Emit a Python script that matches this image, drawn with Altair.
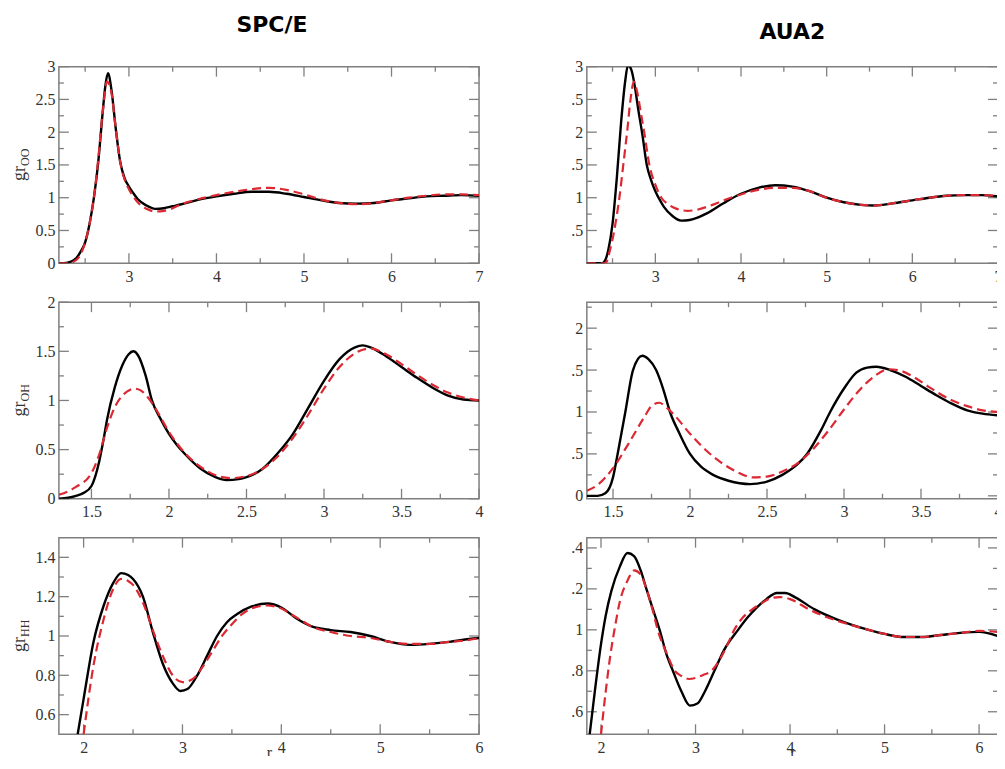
import json
import pandas as pd
import altair as alt

SERIF = "Liberation Serif"
FRAME = "#7f7f7f"
LABEL = "#333333"
RED = "#dc2832"

COLUMN_TITLES = ["SPC/E", "AUA2"]
YTITLE_MAIN = "gr"
YTITLE_SUBS = ["OO", "OH", "HH"]
XTITLE = "r"

# ---------------- g_OO ----------------
OO_XDOM = [2.2, 7.0]
OO_XMAJ = [3, 4, 5, 6, 7]
OO_XLAB = ["3", "4", "5", "6", "7"]
OO_XMIN = [2.5, 3.5, 4.5, 5.5, 6.5]
OO_YDOM = [0, 3]
OO_YMAJ = [0, 0.5, 1, 1.5, 2, 2.5, 3]
OO_YLAB_L = ["0", "0.5", "1", "1.5", "2", "2.5", "3"]
OO_YLAB_R = ["", ".5", "1", ".5", "2", ".5", "3"]
OO_YMIN = [0.25, 0.75, 1.25, 1.75, 2.25, 2.75]

SPCE_OO_R_BLACK = [2.2, 2.3, 2.4, 2.45, 2.5, 2.55, 2.6, 2.65, 2.7, 2.73, 2.76, 2.8, 2.85, 2.9, 2.95,
                   3.0, 3.05, 3.1, 3.2, 3.3, 3.4, 3.5, 3.6, 3.8, 4.0, 4.2, 4.4, 4.6, 4.8, 5.0,
                   5.2, 5.4, 5.6, 5.8, 6.0, 6.2, 6.4, 6.6, 6.8, 7.0]
SPCE_OO_G_BLACK = [0.0, 0.01, 0.08, 0.18, 0.32, 0.6, 1.0, 1.55, 2.3, 2.7, 2.9, 2.65, 2.05, 1.55, 1.3,
                   1.17, 1.07, 0.98, 0.88, 0.83, 0.84, 0.87, 0.9, 0.97, 1.02, 1.06, 1.09, 1.09, 1.06, 1.01,
                   0.96, 0.92, 0.91, 0.92, 0.96, 0.99, 1.02, 1.03, 1.04, 1.03]
SPCE_OO_R_RED = [2.2, 2.3, 2.4, 2.45, 2.5, 2.55, 2.6, 2.65, 2.7, 2.75, 2.8, 2.85, 2.9, 2.95, 3.0,
                 3.05, 3.1, 3.2, 3.3, 3.4, 3.5, 3.6, 3.8, 4.0, 4.2, 4.4, 4.6, 4.8, 5.0, 5.2,
                 5.4, 5.6, 5.8, 6.0, 6.2, 6.4, 6.6, 6.8, 7.0]
SPCE_OO_G_RED = [0.0, 0.0, 0.05, 0.14, 0.32, 0.6, 1.0, 1.6, 2.3, 2.77, 2.6, 2.05, 1.55, 1.28, 1.13,
                 1.02, 0.93, 0.83, 0.79, 0.8, 0.84, 0.9, 0.98, 1.04, 1.09, 1.13, 1.15, 1.12, 1.05, 0.97,
                 0.92, 0.9, 0.92, 0.96, 1.0, 1.03, 1.05, 1.05, 1.04]

AUA2_OO_R_BLACK = [2.2, 2.38, 2.42, 2.45, 2.5, 2.55, 2.6, 2.65, 2.68, 2.72, 2.76, 2.8, 2.85, 2.9, 2.95,
                   3.0, 3.05, 3.1, 3.2, 3.3, 3.4, 3.5, 3.6, 3.8, 4.0, 4.2, 4.4, 4.6, 4.8, 5.0,
                   5.2, 5.4, 5.55, 5.8, 6.0, 6.2, 6.4, 6.6, 6.8, 7.0]
AUA2_OO_G_BLACK = [0.0, 0.0, 0.06, 0.2, 0.6, 1.3, 2.15, 2.8, 3.02, 2.95, 2.7, 2.35, 1.95, 1.5, 1.27,
                   1.1, 0.97, 0.86, 0.72, 0.65, 0.66, 0.7, 0.76, 0.92, 1.06, 1.15, 1.19, 1.17, 1.1, 1.0,
                   0.93, 0.89, 0.88, 0.92, 0.96, 1.0, 1.03, 1.04, 1.04, 1.02]
AUA2_OO_R_RED = [2.2, 2.42, 2.47, 2.52, 2.58, 2.63, 2.67, 2.71, 2.75, 2.79, 2.83, 2.87, 2.93, 3.0, 3.07,
                 3.15, 3.25, 3.38, 3.5, 3.6, 3.8, 4.0, 4.2, 4.4, 4.6, 4.8, 5.0, 5.2, 5.4, 5.55,
                 5.8, 6.0, 6.2, 6.4, 6.6, 6.8, 7.0]
AUA2_OO_G_RED = [0.0, 0.0, 0.2, 0.5, 1.0, 1.55, 2.0, 2.5, 2.77, 2.6, 2.3, 2.0, 1.5, 1.2, 1.0,
                 0.9, 0.83, 0.8, 0.82, 0.86, 0.96, 1.05, 1.12, 1.15, 1.15, 1.1, 1.0, 0.93, 0.89, 0.88,
                 0.92, 0.96, 1.0, 1.03, 1.04, 1.04, 1.03]

# ---------------- g_OH ----------------
OH_XDOM_L = [1.29, 4.0]
OH_XDOM_R = [1.33, 4.0]
OH_XMAJ = [1.5, 2, 2.5, 3, 3.5, 4]
OH_XLAB = ["1.5", "2", "2.5", "3", "3.5", "4"]
OH_XMIN = [1.75, 2.25, 2.75, 3.25, 3.75]
OH_YDOM_L = [0, 2]
OH_YDOM_R = [-0.035, 2.31]
OH_YMAJ = [0, 0.5, 1, 1.5, 2]
OH_YLAB_L = ["0", "0.5", "1", "1.5", "2"]
OH_YLAB_R = ["0", ".5", "1", ".5", "2"]
OH_YMIN_L = [0.25, 0.75, 1.25, 1.75]
OH_YMIN_R = [0.25, 0.75, 1.25, 1.75, 2.25]

SPCE_OH_R_BLACK = [1.29, 1.35, 1.4, 1.45, 1.5, 1.55, 1.58, 1.6, 1.65, 1.7, 1.74, 1.77, 1.8, 1.85, 1.89,
                   1.95, 2.0, 2.05, 2.1, 2.2, 2.3, 2.37, 2.45, 2.5, 2.6, 2.7, 2.8, 2.9, 3.0, 3.1,
                   3.2, 3.25, 3.3, 3.4, 3.5, 3.6, 3.7, 3.8, 3.9, 4.0]
SPCE_OH_G_BLACK = [0.0, 0.01, 0.03, 0.06, 0.13, 0.38, 0.62, 0.8, 1.13, 1.36, 1.47, 1.5, 1.46, 1.25, 1.0,
                   0.8, 0.66, 0.55, 0.46, 0.31, 0.22, 0.19, 0.2, 0.22, 0.3, 0.46, 0.66, 0.93, 1.2, 1.42,
                   1.54, 1.56, 1.54, 1.45, 1.34, 1.23, 1.13, 1.05, 1.01, 1.0]
SPCE_OH_R_RED = [1.29, 1.4, 1.5, 1.55, 1.6, 1.65, 1.7, 1.75, 1.78, 1.82, 1.87, 1.92, 2.0, 2.1, 2.2,
                 2.3, 2.4, 2.5, 2.6, 2.7, 2.8, 2.9, 3.0, 3.1, 3.2, 3.3, 3.4, 3.5, 3.6, 3.7,
                 3.8, 3.9, 4.0]
SPCE_OH_G_RED = [0.04, 0.12, 0.26, 0.45, 0.72, 0.93, 1.05, 1.11, 1.12, 1.1, 1.02, 0.9, 0.68, 0.47, 0.33,
                 0.24, 0.21, 0.23, 0.3, 0.43, 0.62, 0.86, 1.12, 1.34, 1.48, 1.53, 1.47, 1.37, 1.26, 1.16,
                 1.08, 1.03, 1.0]

AUA2_OH_R_BLACK = [1.33, 1.4, 1.45, 1.5, 1.53, 1.58, 1.63, 1.69, 1.73, 1.78, 1.83, 1.87, 1.93, 2.0, 2.07,
                   2.15, 2.25, 2.39, 2.5, 2.6, 2.7, 2.76, 2.85, 2.91, 3.0, 3.08, 3.15, 3.21, 3.3, 3.4,
                   3.5, 3.6, 3.7, 3.8, 3.9, 4.0]
AUA2_OH_G_BLACK = [0.0, 0.0, 0.03, 0.22, 0.5, 1.0, 1.5, 1.67, 1.63, 1.5, 1.25, 1.0, 0.75, 0.5, 0.35,
                   0.25, 0.18, 0.14, 0.17, 0.25, 0.38, 0.5, 0.78, 1.0, 1.28, 1.47, 1.53, 1.54, 1.5, 1.42,
                   1.31, 1.2, 1.1, 1.02, 0.98, 0.96]
AUA2_OH_R_RED = [1.33, 1.4, 1.5, 1.6, 1.7, 1.75, 1.8, 1.85, 1.9, 2.0, 2.1, 2.2, 2.3, 2.41, 2.5,
                 2.6, 2.7, 2.8, 2.9, 3.0, 3.1, 3.2, 3.29, 3.35, 3.45, 3.55, 3.7, 3.8, 3.9, 4.0]
AUA2_OH_G_RED = [0.06, 0.13, 0.33, 0.62, 0.93, 1.07, 1.11, 1.05, 0.96, 0.74, 0.55, 0.4, 0.29, 0.22, 0.23,
                 0.29, 0.39, 0.56, 0.78, 1.03, 1.26, 1.43, 1.51, 1.5, 1.42, 1.3, 1.14, 1.07, 1.02, 1.0]

# ---------------- g_HH ----------------
HH_XDOM_L = [1.75, 6.0]
HH_XDOM_R = [1.85, 6.2]
HH_XMAJ = [2, 3, 4, 5, 6]
HH_XLAB = ["2", "3", "4", "5", "6"]
HH_XMIN = [2.5, 3.5, 4.5, 5.5]
HH_YDOM_L = [0.5, 1.5]
HH_YDOM_R = [0.49, 1.45]
HH_YMAJ = [0.6, 0.8, 1.0, 1.2, 1.4]
HH_YLAB_L = ["0.6", "0.8", "1", "1.2", "1.4"]
HH_YLAB_R = [".6", ".8", "1", ".2", ".4"]
HH_YMIN = [0.7, 0.9, 1.1, 1.3]

SPCE_HH_R_BLACK = [1.94, 2.0, 2.1, 2.2, 2.3, 2.38, 2.45, 2.5, 2.6, 2.7, 2.8, 2.9, 2.98, 3.05, 3.15,
                   3.25, 3.35, 3.45, 3.55, 3.7, 3.86, 4.0, 4.15, 4.3, 4.5, 4.7, 4.9, 5.1, 5.3,
                   5.5, 5.7, 5.9, 6.0]
SPCE_HH_G_BLACK = [0.5, 0.68, 0.97, 1.15, 1.27, 1.32, 1.31, 1.29, 1.2, 1.02, 0.86, 0.76, 0.72, 0.73, 0.8,
                   0.9, 1.0, 1.07, 1.11, 1.15, 1.165, 1.145, 1.09, 1.05, 1.03, 1.02, 1.0, 0.97, 0.955,
                   0.96, 0.97, 0.985, 0.99]
SPCE_HH_R_RED = [2.0, 2.1, 2.2, 2.3, 2.38, 2.45, 2.5, 2.6, 2.7, 2.8, 2.9, 3.0, 3.1, 3.2, 3.3,
                 3.4, 3.5, 3.6, 3.7, 3.85, 4.0, 4.1, 4.2, 4.3, 4.5, 4.7, 4.9, 5.1, 5.3, 5.5,
                 5.7, 5.9, 6.0]
SPCE_HH_G_RED = [0.5, 0.85, 1.08, 1.24, 1.29, 1.28, 1.26, 1.17, 1.03, 0.9, 0.8, 0.765, 0.78, 0.84, 0.92,
                 1.0, 1.06, 1.11, 1.14, 1.155, 1.14, 1.11, 1.08, 1.05, 1.02, 1.0, 0.99, 0.97, 0.96, 0.96,
                 0.97, 0.98, 0.99]

AUA2_HH_R_BLACK = [1.88, 1.94, 2.0, 2.05, 2.11, 2.2, 2.28, 2.35, 2.42, 2.48, 2.55, 2.62, 2.7, 2.76, 2.85,
                   2.94, 3.02, 3.1, 3.2, 3.3, 3.45, 3.55, 3.65, 3.75, 3.86, 3.95, 4.05, 4.26, 4.5, 4.83,
                   5.0, 5.2, 5.4, 5.6, 5.8, 6.0, 6.2]
AUA2_HH_G_BLACK = [0.49, 0.72, 0.93, 1.07, 1.19, 1.31, 1.375, 1.36, 1.29, 1.2, 1.1, 1.0, 0.87, 0.8, 0.7,
                   0.63, 0.64, 0.7, 0.8, 0.9, 1.0, 1.06, 1.11, 1.15, 1.18, 1.18, 1.16, 1.1, 1.05, 1.0,
                   0.98, 0.965, 0.965, 0.975, 0.985, 0.99, 0.97]
AUA2_HH_R_RED = [2.0, 2.05, 2.1, 2.15, 2.2, 2.28, 2.35, 2.42, 2.48, 2.55, 2.6, 2.7, 2.78, 2.85, 2.93,
                 3.0, 3.08, 3.17, 3.25, 3.33, 3.41, 3.5, 3.6, 3.7, 3.8, 3.89, 4.0, 4.2, 4.4, 4.6,
                 4.83, 5.0, 5.2, 5.4, 5.6, 5.8, 6.0, 6.2]
AUA2_HH_G_RED = [0.49, 0.7, 0.88, 1.02, 1.14, 1.24, 1.29, 1.27, 1.2, 1.09, 1.0, 0.88, 0.8, 0.775, 0.76,
                 0.765, 0.78, 0.8, 0.85, 0.92, 1.0, 1.06, 1.1, 1.13, 1.155, 1.16, 1.15, 1.1, 1.06, 1.03,
                 1.0, 0.98, 0.965, 0.965, 0.975, 0.985, 0.995, 0.99]

W_L, W_R, H = 421, 412, 197
MAJ, MIN = 10, 5


def lab_expr(values, labels):
    return f"{json.dumps(labels)}[indexof({json.dumps(values)}, datum.value)]"


def panel(rb, gb, rr, gr, xdom, ydom, xmaj, xlab, xmin, ymaj, ylab, ymin, w,
          title=None, title_dx=0, title_off=22, sub=None, show_r=False):
    h = H
    black = pd.DataFrame({"r": rb, "g": gb})
    red = pd.DataFrame({"r": rr, "g": gr})
    xs = alt.Scale(domain=xdom, nice=False, zero=False)
    ys = alt.Scale(domain=ydom, nice=False, zero=False)

    xkw = dict(orient="bottom", values=xmaj, labelExpr=lab_expr(xmaj, xlab), ticks=False,
               tickSize=0, domain=False, grid=False, labelPadding=5, labelFont=SERIF,
               labelFontSize=16, labelColor=LABEL, labelFlush=False, labelOverlap=False,
               labelAngle=0)
    if show_r:
        xkw.update(title=XTITLE, titleFont=SERIF, titleFontSize=16, titleFontWeight="normal",
                   titleColor=LABEL, titlePadding=-11)
    else:
        xkw.update(title=None)
    xlab_axis = alt.Axis(**xkw)
    ylab_axis = alt.Axis(orient="left", values=ymaj, labelExpr=lab_expr(ymaj, ylab), ticks=False,
                         tickSize=0, domain=False, grid=False, labelPadding=4, labelFont=SERIF,
                         labelFontSize=16, labelColor=LABEL, labelFlush=False, labelOverlap=False,
                         title=None)

    layers = []
    # inward ticks (Grace style): majors and minors on all four sides
    for vals, size in ((xmaj, MAJ), (xmin, MIN)):
        src = pd.DataFrame({"v": vals})
        for y0, y1 in ((h, h - size), (0, size)):
            layers.append(
                alt.Chart(src).mark_rule(color=FRAME, strokeWidth=1.3)
                .encode(x=alt.X("v:Q", scale=xs, axis=None), y=alt.value(y0), y2=alt.value(y1))
            )
    for vals, size in ((ymaj, MAJ), (ymin, MIN)):
        src = pd.DataFrame({"v": vals})
        for x0, x1 in ((0, size), (w, w - size)):
            layers.append(
                alt.Chart(src).mark_rule(color=FRAME, strokeWidth=1.3)
                .encode(y=alt.Y("v:Q", scale=ys, axis=None), x=alt.value(x0), x2=alt.value(x1))
            )

    layers.append(
        alt.Chart(black).mark_line(color="black", strokeWidth=2.4, clip=True, interpolate="monotone")
        .encode(x=alt.X("r:Q", scale=xs, axis=xlab_axis), y=alt.Y("g:Q", scale=ys, axis=ylab_axis))
    )
    layers.append(
        alt.Chart(red).mark_line(color=RED, strokeWidth=2.2, strokeDash=[9, 5], clip=True,
                                 interpolate="monotone")
        .encode(x=alt.X("r:Q", scale=xs, axis=None), y=alt.Y("g:Q", scale=ys, axis=None))
    )
    if sub is not None:
        start = h / 2 + 16
        layers.append(
            alt.Chart(pd.DataFrame({"t": [YTITLE_MAIN]}))
            .mark_text(angle=270, align="left", baseline="alphabetic", font=SERIF, fontSize=18,
                       color=LABEL)
            .encode(text="t:N", x=alt.value(-34), y=alt.value(start))
        )
        layers.append(
            alt.Chart(pd.DataFrame({"t": [sub]}))
            .mark_text(angle=270, align="left", baseline="alphabetic", font=SERIF, fontSize=12,
                       color=LABEL)
            .encode(text="t:N", x=alt.value(-30), y=alt.value(start - 15))
        )
    ch = alt.layer(*layers).resolve_axis(x="independent", y="independent")
    props = dict(width=w, height=h)
    if title is not None:
        props["title"] = alt.TitleParams(text=title, font="DejaVu Sans", fontSize=22,
                                         fontWeight="bold", color="black", offset=title_off,
                                         dx=title_dx, anchor="middle")
    return ch.properties(**props)


p1 = panel(SPCE_OO_R_BLACK, SPCE_OO_G_BLACK, SPCE_OO_R_RED, SPCE_OO_G_RED, OO_XDOM, OO_YDOM,
           OO_XMAJ, OO_XLAB, OO_XMIN, OO_YMAJ, OO_YLAB_L, OO_YMIN, W_L,
           title=COLUMN_TITLES[0], title_dx=3, title_off=22, sub=YTITLE_SUBS[0])
p2 = panel(AUA2_OO_R_BLACK, AUA2_OO_G_BLACK, AUA2_OO_R_RED, AUA2_OO_G_RED, OO_XDOM, OO_YDOM,
           OO_XMAJ, OO_XLAB, OO_XMIN, OO_YMAJ, OO_YLAB_R, OO_YMIN, W_R,
           title=COLUMN_TITLES[1], title_dx=0, title_off=15)
p3 = panel(SPCE_OH_R_BLACK, SPCE_OH_G_BLACK, SPCE_OH_R_RED, SPCE_OH_G_RED, OH_XDOM_L, OH_YDOM_L,
           OH_XMAJ, OH_XLAB, OH_XMIN, OH_YMAJ, OH_YLAB_L, OH_YMIN_L, W_L, sub=YTITLE_SUBS[1])
p4 = panel(AUA2_OH_R_BLACK, AUA2_OH_G_BLACK, AUA2_OH_R_RED, AUA2_OH_G_RED, OH_XDOM_R, OH_YDOM_R,
           OH_XMAJ, OH_XLAB, OH_XMIN, OH_YMAJ, OH_YLAB_R, OH_YMIN_R, W_R)
p5 = panel(SPCE_HH_R_BLACK, SPCE_HH_G_BLACK, SPCE_HH_R_RED, SPCE_HH_G_RED, HH_XDOM_L, HH_YDOM_L,
           HH_XMAJ, HH_XLAB, HH_XMIN, HH_YMAJ, HH_YLAB_L, HH_YMIN, W_L, sub=YTITLE_SUBS[2],
           show_r=True)
p6 = panel(AUA2_HH_R_BLACK, AUA2_HH_G_BLACK, AUA2_HH_R_RED, AUA2_HH_G_RED, HH_XDOM_R, HH_YDOM_R,
           HH_XMAJ, HH_XLAB, HH_XMIN, HH_YMAJ, HH_YLAB_R, HH_YMIN, W_R, show_r=True)

chart = (
    alt.concat(p1, p2, p3, p4, p5, p6, columns=2, bounds="flush",
               spacing={"row": 39, "column": 108})
    .properties(padding={"left": 2, "top": 4, "right": -6, "bottom": -6}, background="white")
    .configure_view(stroke=FRAME, strokeWidth=1.5)
)

chart.save("out.html", embed_options={"renderer": "svg", "actions": False})
